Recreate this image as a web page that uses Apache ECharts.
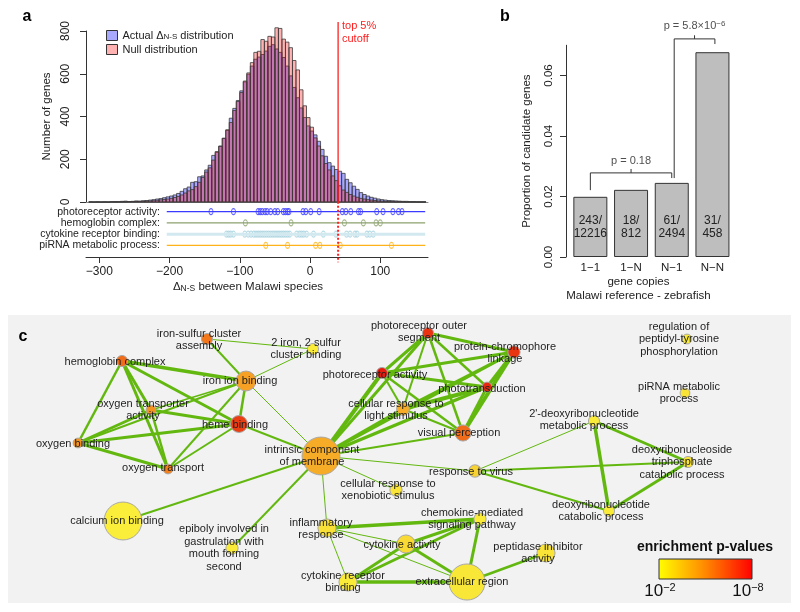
<!DOCTYPE html>
<html><head><meta charset="utf-8">
<script src="https://cdn.jsdelivr.net/npm/echarts@6/dist/echarts.min.js"></script>
<style>html,body{margin:0;padding:0;background:#fff}#c{width:800px;height:612px}</style>
</head><body><div id="c"></div><script>
// ================= Panel a : histogram =================
const binWidth = 5;
const binStarts = [-315,-310,-305,-300,-295,-290,-285,-280,-275,-270,-265,-260,-255,-250,-245,-240,-235,-230,-225,-220,-215,-210,-205,-200,-195,-190,-185,-180,-175,-170,-165,-160,-155,-150,-145,-140,-135,-130,-125,-120,-115,-110,-105,-100,-95,-90,-85,-80,-75,-70,-65,-60,-55,-50,-45,-40,-35,-30,-25,-20,-15,-10,-5,0,5,10,15,20,25,30,35,40,45,50,55,60,65,70,75,80,85,90,95,100,105,110,115,120,125,130,135,140,145,150,155,160];
const actualCounts = [1,0,1,0,1,0,1,2,1,3,4,2,3,5,4,6,7,9,11,14,16,20,24,28,33,40,50,62,70,92,95,118,122,150,172,218,232,262,298,335,392,438,475,520,562,598,636,668,678,690,706,728,736,716,700,676,636,590,536,488,440,395,356,332,314,284,246,214,184,168,152,144,134,106,90,74,59,44,35,28,22,18,14,11,9,7,6,5,4,3,3,2,2,1,1,1];
const nullCounts = [0,0,0,0,0,0,1,0,1,1,1,2,2,2,3,3,4,5,6,8,10,12,14,17,21,26,33,42,52,58,72,92,115,140,160,196,236,260,298,338,372,428,470,512,566,604,652,700,705,760,752,775,772,815,812,762,748,722,662,618,525,450,395,350,300,262,216,180,150,122,100,76,56,45,35,28,22,17,14,11,9,7,5,4,3,2,2,1,1,1,0,0,0,0,0,0];
const cutoff = 40;
const cutoffTop = 842;
const yTicksA = [0,200,400,600,800];
const xTicksA = [-300,-200,-100,0,100];
const stripNames = ['photoreceptor activity:','hemoglobin complex:','cytokine receptor binding:','piRNA metabolic process:'];
const photoreceptorPts = [-141,-109,-74,-71,-68,-64,-61,-56,-50,-46,-38,-35,-32,-30,-10,-6,1,13,46,51,58,69,72,95,104,118,126,131];
const hemoglobinPts = [-92,-27,49,76,94,100];
const cytokinePts = [-119,-116,-113,-109,-93,-88,-84,-80,-77,-74,-71,-68,-65,-62,-59,-56,-53,-50,-47,-44,-41,-38,-35,-32,-29,-19,-15,-12,-9,-5,5,19,37,52,57,64,67,81,85,90];
const piRNAPts = [-63,-32,8,14,43,116];
const stripStart = -204, stripEnd = 164;

// ================= Panel b : bars =================
const bCats = ['1\u22121','1\u2212N','N\u22121','N\u2212N'];
const bNum = [243,18,61,31];
const bDen = [12216,812,2494,458];
const bProp = [0.0199,0.0222,0.0245,0.0677];
const bTicks = [0,0.02,0.04,0.06];

// ================= Panel c : network =================
const nodeNames = [
 'iron-sulfur cluster\nassembly','2 iron, 2 sulfur\ncluster binding','hemoglobin complex','iron ion binding',
 'oxygen transporter\nactivity','heme binding','oxygen binding','oxygen transport',
 'intrinsic component\nof membrane','calcium ion binding','epiboly involved in\ngastrulation with\nmouth forming\nsecond',
 'inflammatory\nresponse','cytokine receptor\nbinding','cellular response to\nxenobiotic stimulus',
 'photoreceptor outer\nsegment','protein-chromophore\nlinkage','photoreceptor activity','phototransduction',
 'cellular response to\nlight stimulus','visual perception','response to virus',
 "2'-deoxyribonucleotide\nmetabolic process",'deoxyribonucleoside\ntriphosphate\ncatabolic process',
 'deoxyribonucleotide\ncatabolic process','regulation of\npeptidyl-tyrosine\nphosphorylation',
 'piRNA metabolic\nprocess','chemokine-mediated\nsignaling pathway','cytokine activity',
 'peptidase inhibitor\nactivity','extracellular region'];
const nodeLogP = [5.5,2.3,5.8,4.4,4.8,7.0,4.8,5.3,4.1,2.2,2.3,2.6,2.3,2.5,7.3,7.2,7.8,7.5,4.1,5.8,3.0,2.3,2.5,2.3,2.3,2.5,2.3,2.8,2.5,2.4];
const nodeGenes = [9,9,9,29,7,21,7,7,105,105,11,24,24,11,9,11,9,7,12,19,11,9,9,9,7,7,11,24,24,95];
const links = [[0,1,1.2],[0,3,2],[1,3,1],
 [2,3,3.5],[2,5,3],[2,6,2.5],[2,7,3],[2,4,3],
 [3,6,2],[3,4,1.5],[3,5,2.5],[3,7,2],[3,8,1],
 [4,5,3],[4,6,3],[4,7,2.5],[5,6,3],[5,7,2],[5,8,2],[6,7,3],
 [8,9,2],[8,10,2],[8,11,1],[8,14,3],[8,16,4],[8,17,3.5],[8,18,3.5],[8,19,2],[8,20,1],[8,13,1],[8,15,3],
 [14,15,3],[14,16,3],[14,17,2.5],[14,19,2.5],[14,18,2],
 [15,16,3],[15,17,3.5],[15,19,4],[15,18,3],
 [16,17,3],[16,19,2.5],[16,18,2],[17,19,3],[17,18,4],[18,19,2],
 [20,21,1],[20,22,2],[20,23,2],[21,22,3],[21,23,3.5],[22,23,3],
 [11,26,3.5],[11,27,1],[11,12,1],[11,29,1],
 [27,26,3],[27,12,3],[27,29,3],[12,26,3],[12,29,3.5],[26,29,3],[29,28,2.5]];

// ---- layout (not data) ----
const nodePos = [[207,339],[313,349],[122,361],[246,381],[151,410],[239,424],[78,443],[168,469],[321,456],[123,521],[232,548],[327,528],[348,582],[396,490],[428,333],[514,352],[382,373],[487,387],[403,409],[463,433],[475,471],[594,421],[688,462],[609,511],[687,339],[685,393],[480,519],[406,544],[546,553],[467,582]];
const labelPos = [[199,340],[306,349],[115,362],[240,381],[143,410],[235,425],[73,444],[163,468],[312,456],[117,521],[224,548],[321,529],[343,582],[388,490],[419,332],[505,353],[375,375],[482,389],[396,410],[459,433],[471,472],[584,420],[682,462],[601,511],[679,339],[679,393],[472,519],[402,545],[538,553],[462,582]];

const FONT = '"Liberation Sans", Arial, Helvetica, sans-serif';
const minusFmt = v => String(v).replace('-', '\u2212');
const pColor = lp => echarts.color.lerp(Math.max(0, Math.min(1, (lp - 2) / 6)), ['#faf53c', '#f58c1e', '#e6150c']);

const chart = echarts.init(document.getElementById('c'), null, {renderer: 'canvas'});

function histSeries(name, counts, color) {
  return {
    type: 'custom', name, xAxisIndex: 0, yAxisIndex: 0, clip: false,
    itemStyle: {color: color, borderColor: '#333', borderWidth: 1},
    data: binStarts.map((s, i) => [s, counts[i]]),
    renderItem: (params, api) => {
      const s = api.value(0), v = api.value(1);
      const p0 = api.coord([s, v]);
      const p1 = api.coord([s + binWidth, 0]);
      return {type: 'rect', shape: {x: p0[0], y: p0[1], width: p1[0] - p0[0], height: p1[1] - p0[1]},
        style: {fill: color, stroke: '#3a3a3a', lineWidth: 0.8}};
    }
  };
}

const stripPts = [photoreceptorPts, hemoglobinPts, cytokinePts, piRNAPts];
const stripLineColors = ['#3b3bff', '#8ba26e', '#d3e9f0', '#ffb31a'];
const stripLineWidths = [1.2, 1.2, 3, 1.2];
const stripDotColors = ['#3b3bff', '#8ba26e', '#a9d3e0', '#ffb31a'];

const series = [
  histSeries('Actual', actualCounts, 'rgba(0,0,255,0.34)'),
  histSeries('Null', nullCounts, 'rgba(255,0,0,0.3)'),
  {type: 'line', xAxisIndex: 0, yAxisIndex: 0, clip: false, symbol: 'none', silent: true,
   data: [[cutoff, 0], [cutoff, cutoffTop]], lineStyle: {color: '#ff2020', width: 1.3}, z: 5},
  {type: 'line', xAxisIndex: 1, yAxisIndex: 1, clip: false, symbol: 'none', silent: true,
   data: [[cutoff, -0.88], [cutoff, 4.5]], lineStyle: {color: '#ff2020', width: 2, type: [2, 2]}, z: 5}
];
stripNames.forEach((n, k) => {
  series.push({type: 'line', xAxisIndex: 1, yAxisIndex: 1, symbol: 'none', silent: true,
    data: [[stripStart, k], [stripEnd, k]], lineStyle: {color: stripLineColors[k], width: stripLineWidths[k]}});
  series.push({type: 'scatter', xAxisIndex: 1, yAxisIndex: 1, symbol: 'circle', symbolSize: [4, 6], silent: true,
    data: stripPts[k].map(v => [v, k]),
    itemStyle: {color: 'rgba(0,0,0,0)', borderColor: stripDotColors[k], borderWidth: 1}});
});

// bars
series.push({type: 'bar', xAxisIndex: 2, yAxisIndex: 2, barWidth: 34,
  data: bProp.map((v, i) => [i + 0.5, v]),
  itemStyle: {color: '#bebebe', borderColor: '#333', borderWidth: 1},
  label: {show: true, position: 'insideBottom', distance: 17, fontSize: 12, lineHeight: 13, color: '#222',
    formatter: p => bNum[p.dataIndex] + '/\n' + bDen[p.dataIndex]}});
const bracketStyle = {color: '#333', width: 1};
const brackets = [
  [[0.5, 0.0221], [0.5, 0.0278], [2.5, 0.0278], [2.5, 0.0261]],
  [[1.5, 0.0278], [1.5, 0.0291]],
  [[2.56, 0.0261], [2.56, 0.0721], [3.56, 0.0721], [3.56, 0.0704]],
  [[3.06, 0.0721], [3.06, 0.0733]]
];
brackets.forEach(b => series.push({type: 'line', xAxisIndex: 2, yAxisIndex: 2, clip: false, symbol: 'none', silent: true,
  data: b, lineStyle: bracketStyle}));
series.push({type: 'scatter', xAxisIndex: 2, yAxisIndex: 2, symbolSize: 0, silent: true, clip: false,
  data: [
    {value: [1.5, 0.0291], label: {show: true, position: 'top', distance: 3, formatter: '{a|p = 0.18}'}},
    {value: [3.06, 0.0733], label: {show: true, position: 'top', distance: 4, formatter: '{a|p = 5.8\u00d710}{s|\u22126}'}}
  ],
  label: {rich: {a: {fontSize: 11, color: '#222'}, s: {fontSize: 8, color: '#222', verticalAlign: 'top'}}}});

// network
series.push({type: 'graph', coordinateSystem: 'cartesian2d', xAxisIndex: 3, yAxisIndex: 3, z: 3,
  data: nodeNames.map((n, i) => ({
    name: 'n' + i, value: nodePos[i], symbolSize: 3.7 * Math.sqrt(nodeGenes[i]),
    itemStyle: {color: pColor(nodeLogP[i]), borderColor: '#a8a8a8', borderWidth: 1},
    label: {show: true, formatter: n, position: 'inside',
      offset: [labelPos[i][0] - nodePos[i][0], labelPos[i][1] - nodePos[i][1]],
      color: '#1e1e1e', fontSize: 11, lineHeight: 12.5, fontFamily: FONT}
  })),
  links: links.map(([s, t, w]) => ({source: s, target: t, lineStyle: {width: w}})),
  lineStyle: {color: '#63b80f', opacity: 1, curveness: 0},
  emphasis: {disabled: true}, silent: true});

const option = {
  animation: false,
  textStyle: {fontFamily: FONT, color: '#222'},
  grid: [
    {left: 86, top: 31, width: 342, height: 171},
    {left: 86, top: 206, width: 342, height: 45},
    {left: 570, top: 45.25, width: 162.8, height: 211.75},
    {left: 8, top: 315, width: 783, height: 288}
  ],
  legend: {data: ['Actual', 'Null'], orient: 'vertical', left: 101, top: 25, itemWidth: 11, itemHeight: 10, itemGap: 3,
    icon: 'rect', selectedMode: false, itemStyle: {borderColor: '#333', borderWidth: 1},
    formatter: n => n === 'Actual' ? '{a|Actual \u0394}{s|N-S}{a| distribution}' : '{a|Null distribution}',
    textStyle: {rich: {a: {fontSize: 11, color: '#222'}, s: {fontSize: 8, color: '#222', verticalAlign: 'bottom'}}}},
  xAxis: [
    {gridIndex: 0, type: 'value', min: -319, max: 168, axisLine: {show: true, onZero: false, lineStyle: {color: '#888'}},
     axisTick: {show: false}, axisLabel: {show: false}, splitLine: {show: false}},
    {gridIndex: 1, type: 'value', min: -319, max: 168, offset: 6,
     axisLine: {show: true, onZero: false, lineStyle: {color: '#333'}},
     axisTick: {show: true, length: 6, customValues: xTicksA, lineStyle: {color: '#333'}},
     axisLabel: {customValues: xTicksA, formatter: minusFmt, fontSize: 12, margin: 9, color: '#222'},
     splitLine: {show: false},
     name: '{a|\u0394}{s|N-S}{a| between Malawi species}', nameLocation: 'middle', nameGap: 24,
     nameTextStyle: {padding: [0, 18, 0, 0], rich: {a: {fontSize: 11.5, color: '#222'}, s: {fontSize: 8.5, color: '#222', verticalAlign: 'bottom'}}}},
    {gridIndex: 2, type: 'value', min: 0, max: 4, axisLine: {show: false, onZero: false}, axisTick: {show: false}, splitLine: {show: false},
     axisLabel: {customValues: [0.5, 1.5, 2.5, 3.5], formatter: v => bCats[Math.floor(v)], fontSize: 11.5, margin: 5, color: '#222'},
     name: 'gene copies\nMalawi reference - zebrafish', nameLocation: 'middle', nameGap: 17,
     nameTextStyle: {fontSize: 11.5, lineHeight: 14, padding: [0, 26, 0, 0], color: '#222'}},
    {gridIndex: 3, type: 'value', min: 8, max: 791, show: false}
  ],
  yAxis: [
    {gridIndex: 0, type: 'value', min: 0, max: 800, interval: 200,
     axisLine: {show: true, onZero: false, lineStyle: {color: '#333'}}, axisTick: {show: true, length: 6, lineStyle: {color: '#333'}},
     axisLabel: {rotate: 90, fontSize: 12, margin: 14, color: '#222'}, splitLine: {show: false},
     name: 'Number of genes', nameLocation: 'middle', nameRotate: 90, nameGap: 33, nameTextStyle: {fontSize: 11.5, color: '#222'}},
    {gridIndex: 1, type: 'value', min: -0.5, max: 3.5, inverse: true, offset: -76,
     axisLine: {show: false, onZero: false}, axisTick: {show: false}, splitLine: {show: false},
     axisLabel: {customValues: [0, 1, 2, 3], formatter: v => stripNames[v], fontSize: 10.5, margin: 2, color: '#222'}},
    {gridIndex: 2, type: 'value', min: 0, max: 0.07, offset: 4,
     axisLine: {show: true, onZero: false, lineStyle: {color: '#333'}},
     axisTick: {show: true, length: 6, customValues: bTicks, lineStyle: {color: '#333'}},
     axisLabel: {customValues: bTicks, formatter: v => v.toFixed(2), rotate: 90, fontSize: 11.5, margin: 11, color: '#222'},
     splitLine: {show: false},
     name: 'Proportion of candidate genes', nameLocation: 'middle', nameRotate: 90, nameGap: 33, nameTextStyle: {fontSize: 11.5, color: '#222'}},
    {gridIndex: 3, type: 'value', min: 315, max: 603, inverse: true, show: false}
  ],
  graphic: [
    {type: 'rect', z: -10, shape: {x: 8, y: 315, width: 783, height: 288}, style: {fill: '#f2f2f2'}},
    {type: 'text', x: 27, y: 17, style: {text: 'a', font: 'bold 16px ' + FONT, fill: '#000', align: 'center', verticalAlign: 'middle'}},
    {type: 'text', x: 505, y: 17, style: {text: 'b', font: 'bold 16px ' + FONT, fill: '#000', align: 'center', verticalAlign: 'middle'}},
    {type: 'text', x: 23, y: 337, style: {text: 'c', font: 'bold 16px ' + FONT, fill: '#000', align: 'center', verticalAlign: 'middle'}},
    {type: 'text', x: 342, y: 32, style: {text: 'top 5%\ncutoff', font: '11px ' + FONT, lineHeight: 13, fill: '#ff2020', align: 'left', verticalAlign: 'middle'}},
    {type: 'text', x: 705, y: 547, style: {text: 'enrichment p-values', font: 'bold 14px ' + FONT, fill: '#111', align: 'center', verticalAlign: 'middle'}},
    {type: 'rect', shape: {x: 659, y: 559, width: 93, height: 20},
     style: {fill: new echarts.graphic.LinearGradient(0, 0, 1, 0, [{offset: 0, color: '#ffff00'}, {offset: 0.5, color: '#ff8800'}, {offset: 1, color: '#ff0000'}]), stroke: '#333', lineWidth: 1}},
    {type: 'text', x: 660, y: 591, style: {text: '{a|10}{s|\u22122}', align: 'center', verticalAlign: 'middle',
      rich: {a: {fontSize: 17, fontFamily: FONT, fill: '#111'}, s: {fontSize: 11, fontFamily: FONT, fill: '#111', verticalAlign: 'top'}}}},
    {type: 'text', x: 748, y: 591, style: {text: '{a|10}{s|\u22128}', align: 'center', verticalAlign: 'middle',
      rich: {a: {fontSize: 17, fontFamily: FONT, fill: '#111'}, s: {fontSize: 11, fontFamily: FONT, fill: '#111', verticalAlign: 'top'}}}}
  ],
  series: series
};
chart.setOption(option);
</script></body></html>
